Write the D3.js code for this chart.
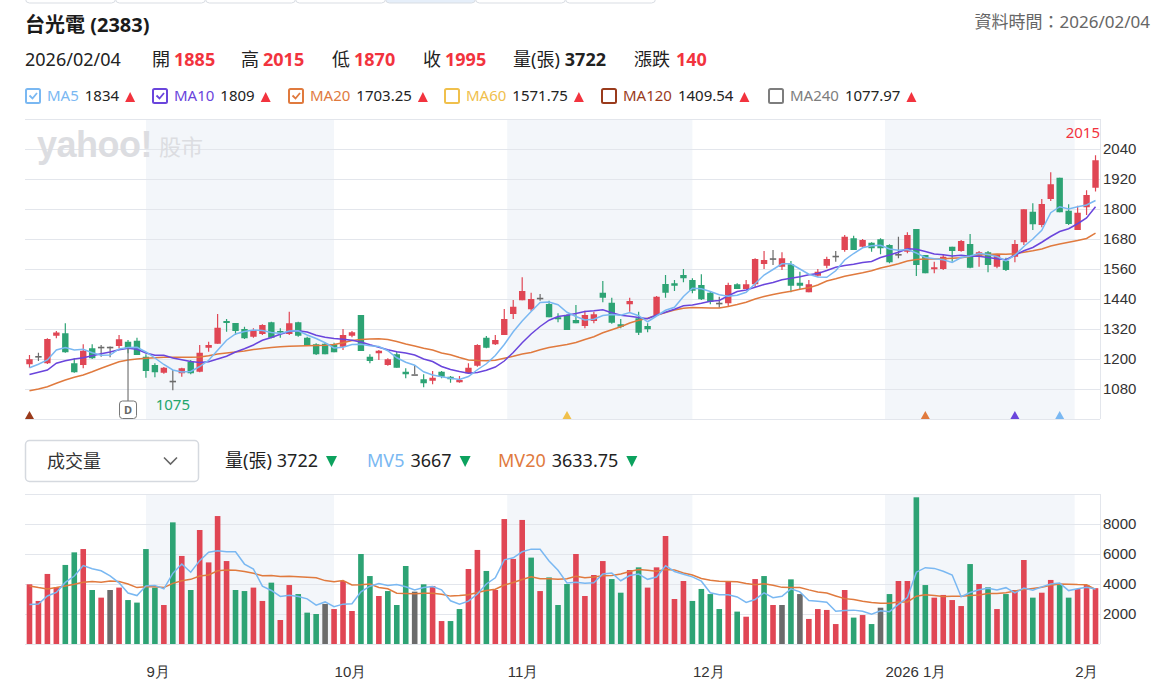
<!DOCTYPE html>
<html lang="zh-Hant">
  <head>
    <meta charset="UTF-8">
    <title>台光電 (2383)</title>
    <style>
      body { margin: 0; background: #fff; }
      svg { display: block; font-family: "Noto Sans", "Noto Sans CJK TC", sans-serif; }
      .grid line { stroke: #e3e6ec; }
      .axis text { fill: #333; font-size: 15px; }
    </style>
  </head>
  <body>
    <svg id="chart"></svg>

    <script src="https://cdn.jsdelivr.net/npm/d3@7"></script>

    <script>
      // daily candles, 2025/08 .. 2026/02/04
      var open = [1179,1212,1183,1293,1303,1183,1176,1243,1249,1249,
        1252,1269,1273,1209,1176,1145,1113,1143,1189,1149,
        1245,1261,1352,1344,1320,1289,1300,1347,1312,1300,
        1347,1285,1259,1261,1259,1249,1293,1376,1209,1223,
        1176,1219,1149,1139,1119,1113,1149,1129,1107,1143,
        1173,1285,1259,1296,1380,1435,1399,1445,1420,1367,
        1376,1356,1332,1352,1465,1425,1339,1419,1363,1332,
        1376,1500,1503,1536,1516,1496,1465,1425,1423,1499,
        1480,1499,1580,1603,1569,1579,1505,1467,1533,1573,
        1613,1636,1683,1649,1665,1679,1656,1620,1629,1720,
        1616,1559,1560,1649,1632,1660,1613,1627,1569,1593,
        1609,1667,1789,1736,1840,1925,1793,1716,1807,1885];
      var high = [1216,1225,1283,1312,1343,1203,1259,1259,1256,1250,
        1296,1276,1285,1219,1183,1168,1156,1165,1196,1256,
        1269,1380,1360,1344,1329,1323,1339,1349,1323,1389,
        1349,1289,1263,1265,1265,1320,1312,1376,1219,1236,
        1203,1229,1163,1176,1139,1152,1152,1132,1132,1183,
        1259,1292,1296,1400,1436,1527,1465,1460,1433,1383,
        1379,1416,1393,1389,1512,1445,1360,1445,1389,1343,
        1452,1536,1516,1560,1523,1539,1469,1449,1505,1503,
        1516,1603,1632,1636,1627,1592,1549,1516,1560,1609,
        1632,1696,1693,1680,1667,1683,1659,1689,1707,1720,
        1616,1589,1616,1649,1676,1700,1632,1632,1620,1605,
        1676,1799,1823,1840,1947,1925,1819,1813,1875,2015];
      var low = [1165,1192,1180,1283,1225,1145,1163,1200,1209,1207,
        1243,1223,1216,1125,1127,1141,1075,1129,1139,1147,
        1229,1261,1309,1296,1280,1285,1296,1283,1285,1296,
        1289,1253,1216,1219,1227,1236,1287,1232,1183,1196,
        1173,1165,1123,1139,1087,1099,1123,1105,1105,1140,
        1169,1243,1256,1296,1360,1435,1392,1433,1367,1347,
        1316,1343,1323,1343,1427,1341,1323,1389,1296,1307,
        1376,1445,1472,1507,1463,1436,1419,1405,1409,1480,
        1480,1489,1560,1576,1556,1467,1480,1467,1529,1563,
        1589,1629,1636,1647,1629,1619,1583,1603,1623,1532,
        1543,1543,1556,1589,1629,1563,1569,1547,1563,1552,
        1587,1656,1716,1727,1832,1787,1736,1716,1776,1870];
      var close = [1199,1212,1280,1306,1227,1147,1233,1203,1249,1249,
        1279,1243,1216,1152,1147,1165,1113,1163,1143,1225,
        1256,1325,1344,1312,1283,1316,1336,1285,1307,1343,
        1293,1253,1219,1219,1227,1296,1307,1232,1192,1233,
        1199,1165,1139,1139,1103,1125,1129,1119,1116,1165,
        1256,1245,1276,1360,1409,1472,1440,1445,1367,1359,
        1316,1343,1376,1379,1445,1345,1329,1432,1305,1319,
        1449,1465,1493,1523,1473,1439,1429,1425,1496,1480,
        1499,1600,1596,1603,1603,1493,1493,1499,1549,1600,
        1613,1689,1636,1676,1643,1643,1587,1620,1696,1576,
        1543,1567,1609,1632,1672,1565,1627,1576,1616,1556,
        1660,1799,1739,1820,1899,1787,1740,1785,1856,1995];

      var ma5 = [1165,1179,1196,1236,1246,1236,1239,1225,1215,1216,
        1240,1246,1247,1228,1204,1178,1156,1148,1150,1170,
        1195,1235,1275,1300,1310,1316,1314,1306,1302,1312,
        1313,1296,1282,1265,1244,1247,1258,1259,1253,1250,
        1233,1205,1187,1175,1149,1136,1129,1123,1118,1130,
        1157,1181,1214,1258,1309,1352,1390,1426,1428,1417,
        1387,1370,1356,1359,1374,1378,1375,1386,1373,1349,
        1372,1395,1407,1450,1483,1481,1470,1457,1451,1455,
        1467,1501,1536,1558,1581,1581,1560,1539,1528,1527,
        1553,1596,1622,1645,1653,1655,1640,1635,1638,1624,
        1606,1601,1597,1586,1606,1612,1622,1618,1610,1592,
        1615,1650,1680,1715,1785,1809,1800,1809,1816,1834];
      var ma10 = [1138,1147,1156,1183,1193,1200,1205,1213,1221,1228,
        1237,1243,1239,1224,1215,1215,1204,1197,1190,1186,
        1189,1200,1211,1228,1241,1256,1275,1286,1299,1310,
        1313,1308,1295,1287,1282,1279,1275,1268,1257,1247,
        1237,1229,1224,1216,1200,1190,1170,1158,1150,1143,
        1146,1155,1168,1192,1226,1265,1300,1330,1355,1370,
        1375,1382,1390,1393,1397,1385,1375,1371,1366,1361,
        1376,1387,1399,1413,1416,1423,1431,1434,1453,1470,
        1476,1487,1498,1506,1517,1523,1529,1537,1542,1554,
        1567,1574,1579,1586,1590,1606,1616,1627,1641,1639,
        1630,1620,1617,1612,1615,1611,1611,1606,1601,1597,
        1615,1633,1646,1667,1690,1710,1721,1741,1764,1809];
      var ma20 = [1073,1080,1089,1103,1116,1127,1136,1149,1163,1176,
        1189,1196,1200,1203,1205,1207,1207,1207,1207,1208,
        1213,1220,1224,1228,1232,1238,1242,1246,1249,1251,
        1252,1253,1254,1255,1258,1265,1274,1278,1280,1281,
        1278,1270,1260,1252,1243,1236,1224,1217,1206,1196,
        1194,1193,1195,1203,1211,1220,1226,1237,1246,1252,
        1258,1266,1278,1289,1305,1317,1329,1344,1355,1363,
        1375,1386,1396,1403,1406,1405,1404,1404,1410,1418,
        1427,1440,1450,1458,1465,1471,1479,1485,1496,1512,
        1521,1531,1538,1545,1553,1564,1572,1581,1592,1598,
        1600,1600,1601,1603,1605,1610,1616,1618,1620,1619,
        1621,1627,1633,1640,1652,1660,1667,1674,1682,1703.25];

      // volume (張), direction vs previous close: u up, d down, n flat
      var volume = [3980,2870,4670,3760,5270,6110,6330,3600,3090,3600,
        3760,2930,2760,6330,3760,2600,8110,5870,3600,7600,
        5440,8530,5530,3600,3530,3760,2870,4090,1600,3930,
        3330,2090,2000,2670,2330,4200,2200,6000,4530,3200,
        3530,2600,5200,3490,3980,3870,1530,1530,2330,5000,
        6270,4870,3600,8330,5670,8270,5760,3530,4440,2600,
        4000,6000,3200,4600,5530,4330,3420,4930,5110,3760,
        5110,7200,3000,4200,2870,3670,3330,2330,4200,2160,
        1820,4330,4530,2600,2600,4310,3330,1670,2330,2270,
        1330,3600,1760,1930,1330,2420,3330,4200,4200,9780,
        3930,3090,3270,2930,2530,5330,4000,3780,2330,3330,
        3600,5600,3090,3420,4270,3930,3090,3670,3930,3722];
      var volDir = "uuuuddudun" + "uddddududu" + "uuudduuduu" + "dddnuuuddu" +
        "dddnduuddu" + "uduuuududd" + "duuuuddudu" + "uuuuddddud" +
        "uudundnuuu" + "uududnduud" + "duuuududud" + "uuduudduuu";
      var mv5 = [2640,2670,3200,3440,4107,4533,5227,5013,4880,4547,
        4076,3396,3227,3876,3907,3676,4711,5333,4787,5556,
        6124,6209,6142,6142,5329,4991,3858,3569,3169,3249,
        3164,3009,2591,2804,2484,2658,2680,3480,3853,4027,
        3893,3973,3813,3604,3760,3827,3613,2880,2649,2853,
        3333,4000,4413,5613,5747,6147,6324,6311,5533,4920,
        4066,4115,4049,4080,4667,4733,4218,4564,4666,4311,
        4467,5222,4836,4653,4475,4187,3413,3280,3280,3138,
        2769,2969,3409,3089,3178,3675,3475,2902,2849,2782,
        2187,2240,2258,2178,1991,2209,2155,2644,3098,4787,
        5089,5040,4853,4600,3151,3431,3613,3715,3595,3755,
        3409,3729,3591,3809,3996,4062,3560,3676,3778,3667];
      var mv20 = [3870,3760,3670,3760,3870,3980,4110,4160,4110,4200,
        4160,4000,3760,3820,3820,3760,4040,4220,4310,4530,
        4603,4886,4929,4922,4835,4717,4544,4568,4494,4511,
        4489,4447,4409,4226,4155,4235,3940,3946,3993,3773,
        3677,3381,3364,3358,3381,3386,3319,3192,3228,3282,
        3428,3567,3647,3930,4097,4300,4478,4355,4350,4321,
        4344,4514,4414,4469,4547,4570,4665,4835,4973,4912,
        4854,4970,4940,4734,4594,4364,4243,4183,4170,4148,
        4039,3956,4023,3923,3776,3775,3770,3607,3468,3394,
        3205,3025,2963,2850,2773,2710,2710,2804,2804,3185,
        3290,3228,3165,3182,3178,3229,3263,3368,3368,3421,
        3535,3635,3701,3776,3923,3998,3986,3959,3946,3633.75];

      // month starts in candle-index units, ticks
      var monthLabels = ["9月", "10月", "11月", "12月", "2026 1月", "2月"];
      var monthPos = [13, 34, 53.33, 74, 95.5, 116.67];
      var shadedMonths = [[0, 1], [2, 3], [4, 5]];
      var priceTicks = [1080, 1200, 1320, 1440, 1560, 1680, 1800, 1920, 2040];
      var priceGrid = [960, 1080, 1200, 1320, 1440, 1560, 1680, 1800, 1920, 2040, 2160];
      var volTicks = [2000, 4000, 6000, 8000];
      var volGrid = [0, 2000, 4000, 6000, 8000, 10000];

      // cross signals at the bottom of the price pane
      var crossIdx = [0, 60, 100, 110, 115];
      var crossLine = ["MA120", "MA60", "MA20", "MA10", "MA5"];
      var dividendIdx = 11;

      var maNames = ["MA5", "MA10", "MA20", "MA60", "MA120", "MA240"];
      var maLast = ["1834", "1809", "1703.25", "1571.75", "1409.54", "1077.97"];
      var maOn = [true, true, true, false, false, false];

      var colors = {
        up: "#e04654", down: "#2da374", flat: "#6b6b6b",
        MA5: "#7ab8f2", MA10: "#6a45dc", MA20: "#e07a3e",
        MA60: "#f0c04c", MA120: "#9a3b1c", MA240: "#7d7d7d",
        redText: "#f2333e", greenTri: "#0ca25e"
      };

      var svg = d3.select("#chart").attr("width", 1171).attr("height", 690);

      var plotL = 25, plotR = 1100;
      var pTop = 119, pBot = 419, vTop = 494, vBot = 644;

      var x = d3.scaleLinear().domain([-0.5, close.length - 0.5]).range([plotL, plotR]);
      var yP = d3.scaleLinear().domain([960, 2160]).range([pBot, pTop]);
      var yV = d3.scaleLinear().domain([0, 10000]).range([vBot, vTop]);

      // top tabs (cut off)
      var tabs = svg.append("g");
      d3.range(7).forEach(function(k) {
        tabs.append("rect")
          .attr("x", 25.5 + k * 90).attr("y", -20).attr("width", 90).attr("height", 23)
          .attr("rx", 4)
          .attr("fill", k === 4 ? "#e6effa" : "#fff")
          .attr("stroke", "#d9dde3");
      });

      // header
      svg.append("text").attr("x", 25).attr("y", 32)
        .attr("font-size", 20).attr("font-weight", 700).attr("fill", "#1b1b1b")
        .text("台光電 (2383)");
      svg.append("text").attr("x", 1150).attr("y", 28).attr("text-anchor", "end")
        .attr("font-size", 17).attr("fill", "#666")
        .text("資料時間：2026/02/04");

      function flow(x0, y, runs) {
        var cx = x0;
        runs.forEach(function(r) {
          cx += r.gap || 0;
          if (r.box) {
            svg.append("rect").attr("x", cx + 1).attr("y", y - 12).attr("width", 14).attr("height", 14)
              .attr("rx", 1.5).attr("fill", "#fff").attr("stroke", r.box).attr("stroke-width", 2);
            if (r.checked) {
              svg.append("polyline")
                .attr("points", [[cx + 4.5, y - 5.5], [cx + 7.5, y - 2.5], [cx + 12, y - 8]].join(" "))
                .attr("fill", "none").attr("stroke", r.box).attr("stroke-width", 1.8);
            }
            cx += 16;
            return;
          }
          if (r.tri) {
            var pts = r.tri === "up"
              ? [[cx, y + 1], [cx + 10, y + 1], [cx + 5, y - 9]]
              : [[cx, y - 11], [cx + 11, y - 11], [cx + 5.5, y]];
            svg.append("polygon").attr("points", pts.join(" ")).attr("fill", r.color);
            cx += 10;
            return;
          }
          var t = svg.append("text").attr("x", cx).attr("y", y)
            .attr("font-size", r.size).attr("fill", r.color || "#222")
            .attr("font-weight", r.bold ? 700 : 400).text(r.text);
          cx += t.node().getComputedTextLength();
        });
      }

      var row2 = [
        [25, [{text: "2026/02/04"}]],
        [152, [{text: "開"}, {gap: 4, text: "1885", bold: true, color: colors.redText}]],
        [241, [{text: "高"}, {gap: 4, text: "2015", bold: true, color: colors.redText}]],
        [332, [{text: "低"}, {gap: 4, text: "1870", bold: true, color: colors.redText}]],
        [423, [{text: "收"}, {gap: 4, text: "1995", bold: true, color: colors.redText}]],
        [513, [{text: "量(張)"}, {gap: 5, text: "3722", bold: true, color: "#222"}]],
        [634, [{text: "漲跌"}, {gap: 6, text: "140", bold: true, color: colors.redText}]]
      ];
      row2.forEach(function(r) {
        r[1].forEach(function(d) { d.size = 18; });
        flow(r[0], 66, r[1]);
      });

      var maStarts = [25, 152, 288, 444, 601, 768];
      maNames.forEach(function(name, k) {
        flow(maStarts[k], 101, [
          {box: colors[name], checked: maOn[k]},
          {gap: 6, text: name, size: 15, color: colors[name]},
          {gap: 6, text: maLast[k], size: 15, color: "#222"},
          {gap: 6, tri: "up", color: colors.redText}
        ]);
      });

      // month shading, both panes
      var bands = svg.append("g");
      shadedMonths.forEach(function(p) {
        [[pTop, pBot], [vTop, vBot]].forEach(function(pane) {
          bands.append("rect")
            .attr("x", x(monthPos[p[0]])).attr("y", pane[0])
            .attr("width", x(monthPos[p[1]]) - x(monthPos[p[0]])).attr("height", pane[1] - pane[0])
            .attr("fill", "#f3f6fa");
        });
      });

      // grid + right border
      svg.append("g").attr("class", "grid").attr("transform", "translate(" + plotL + ",0)")
        .call(d3.axisRight(yP).tickValues(priceGrid).tickSize(plotR - plotL).tickFormat(""))
        .call(function(g) { g.select(".domain").remove(); });
      svg.append("g").attr("class", "grid").attr("transform", "translate(" + plotL + ",0)")
        .call(d3.axisRight(yV).tickValues(volGrid).tickSize(plotR - plotL).tickFormat(""))
        .call(function(g) { g.select(".domain").remove(); });
      [[pTop, pBot], [vTop, vBot]].forEach(function(pane) {
        svg.append("line").attr("x1", plotR + 0.5).attr("x2", plotR + 0.5)
          .attr("y1", pane[0]).attr("y2", pane[1]).attr("stroke", "#e3e6ec");
      });

      // watermark
      svg.append("text").attr("x", 37).attr("y", 157)
        .attr("font-family", "Liberation Sans, Arial, sans-serif").attr("font-weight", 700)
        .attr("font-size", 36).attr("letter-spacing", -0.5).attr("fill", "#dcdde1")
        .text("yahoo!");
      svg.append("text").attr("x", 159).attr("y", 155)
        .attr("font-size", 22).attr("fill", "#dcdde1").text("股市");

      // axes
      svg.append("g").attr("class", "axis").attr("transform", "translate(" + plotR + ",0)")
        .call(d3.axisRight(yP).tickValues(priceTicks).tickSize(0).tickPadding(3).tickFormat(d3.format("d")))
        .call(function(g) { g.select(".domain").remove(); });
      svg.append("g").attr("class", "axis").attr("transform", "translate(" + plotR + ",0)")
        .call(d3.axisRight(yV).tickValues(volTicks).tickSize(0).tickPadding(3).tickFormat(d3.format("d")))
        .call(function(g) { g.select(".domain").remove(); });
      svg.append("g").attr("class", "axis").attr("transform", "translate(0," + vBot + ")")
        .call(d3.axisBottom(x).tickValues(monthPos).tickSize(0)
          .tickFormat(function(d, i) { return monthLabels[i]; }))
        .call(function(g) {
          g.select(".domain").remove();
          g.selectAll("text").attr("text-anchor", "start").attr("y", 28).attr("dy", "0.35em");
        });

      function candleColor(i) {
        return close[i] > open[i] ? colors.up : close[i] < open[i] ? colors.down : colors.flat;
      }
      var idx = d3.range(close.length);

      // candles
      var cg = svg.append("g");
      cg.selectAll("line").data(idx).enter().append("line")
        .attr("x1", function(i) { return x(i); }).attr("x2", function(i) { return x(i); })
        .attr("y1", function(i) { return yP(high[i]); }).attr("y2", function(i) { return yP(low[i]); })
        .attr("stroke", candleColor).attr("stroke-width", 1.2);
      cg.selectAll("rect").data(idx).enter().append("rect")
        .attr("x", function(i) { return x(i) - 3.2; }).attr("width", 6.4)
        .attr("y", function(i) { return yP(Math.max(open[i], close[i])); })
        .attr("height", function(i) { return Math.max(1.6, Math.abs(yP(open[i]) - yP(close[i]))); })
        .attr("fill", candleColor);

      // moving averages
      var line = function(series, ys) {
        return d3.line().x(function(d, i) { return x(i); }).y(function(d) { return ys(d); })(series);
      };
      [["MA20", ma20], ["MA10", ma10], ["MA5", ma5]].forEach(function(m) {
        svg.append("path").attr("d", line(m[1], yP)).attr("fill", "none")
          .attr("stroke", colors[m[0]]).attr("stroke-width", 1.5);
      });

      // high / low labels
      var hi = d3.maxIndex(high), lo = d3.minIndex(low);
      svg.append("text").attr("x", plotR).attr("y", yP(high[hi]) - 17).attr("text-anchor", "end")
        .attr("font-size", 15).attr("fill", colors.redText).text(high[hi]);
      svg.append("text").attr("x", x(lo)).attr("y", yP(low[lo]) + 20).attr("text-anchor", "middle")
        .attr("font-size", 15).attr("fill", "#22a56c").text(low[lo]);

      // dividend marker
      var dx = x(dividendIdx);
      svg.append("line").attr("x1", dx).attr("x2", dx)
        .attr("y1", yP(Math.min(open[dividendIdx], close[dividendIdx]))).attr("y2", pBot - 18)
        .attr("stroke", "#777").attr("stroke-width", 1.2);
      svg.append("rect").attr("x", dx - 8.5).attr("y", pBot - 18).attr("width", 17).attr("height", 17.5)
        .attr("rx", 3).attr("fill", "#fff").attr("stroke", "#777");
      svg.append("text").attr("x", dx).attr("y", pBot - 5).attr("text-anchor", "middle")
        .attr("font-size", 11).attr("font-weight", 700).attr("fill", "#666").text("D");

      // cross triangles
      crossIdx.forEach(function(i, k) {
        var cx = x(i);
        svg.append("polygon")
          .attr("points", [[cx - 4.5, pBot], [cx + 4.5, pBot], [cx, pBot - 8]].join(" "))
          .attr("fill", colors[crossLine[k]]);
      });

      // volume pane header
      svg.append("rect").attr("x", 25.5).attr("y", 440.5).attr("width", 173).attr("height", 41)
        .attr("rx", 4).attr("fill", "#fff").attr("stroke", "#d5d9df").attr("stroke-width", 1.5);
      svg.append("text").attr("x", 47).attr("y", 468).attr("font-size", 18).attr("fill", "#333")
        .text("成交量");
      svg.append("polyline").attr("points", "164,457.5 170.5,464 177,457.5")
        .attr("fill", "none").attr("stroke", "#666").attr("stroke-width", 1.6);

      flow(225, 467, [
        {text: "量(張)", size: 18, color: "#222"},
        {gap: 5, text: "3722", size: 18, color: "#222"},
        {gap: 8, tri: "down", color: colors.greenTri}
      ]);
      flow(367, 467, [
        {text: "MV5", size: 18, color: colors.MA5},
        {gap: 6, text: "3667", size: 18, color: "#222"},
        {gap: 8, tri: "down", color: colors.greenTri}
      ]);
      flow(498, 467, [
        {text: "MV20", size: 18, color: colors.MA20},
        {gap: 6, text: "3633.75", size: 18, color: "#222"},
        {gap: 8, tri: "down", color: colors.greenTri}
      ]);

      // volume bars
      var dirColor = {u: colors.up, d: colors.down, n: colors.flat};
      svg.append("g").selectAll("rect").data(idx).enter().append("rect")
        .attr("x", function(i) { return x(i) - 2.8; }).attr("width", 5.6)
        .attr("y", function(i) { return yV(volume[i]); })
        .attr("height", function(i) { return yV(0) - yV(volume[i]); })
        .attr("fill", function(i) { return dirColor[volDir[i]]; });

      [["MA20", mv20], ["MA5", mv5]].forEach(function(m) {
        svg.append("path").attr("d", line(m[1], yV)).attr("fill", "none")
          .attr("stroke", colors[m[0]]).attr("stroke-width", 1.5);
      });
    </script>
  </body>
</html>
